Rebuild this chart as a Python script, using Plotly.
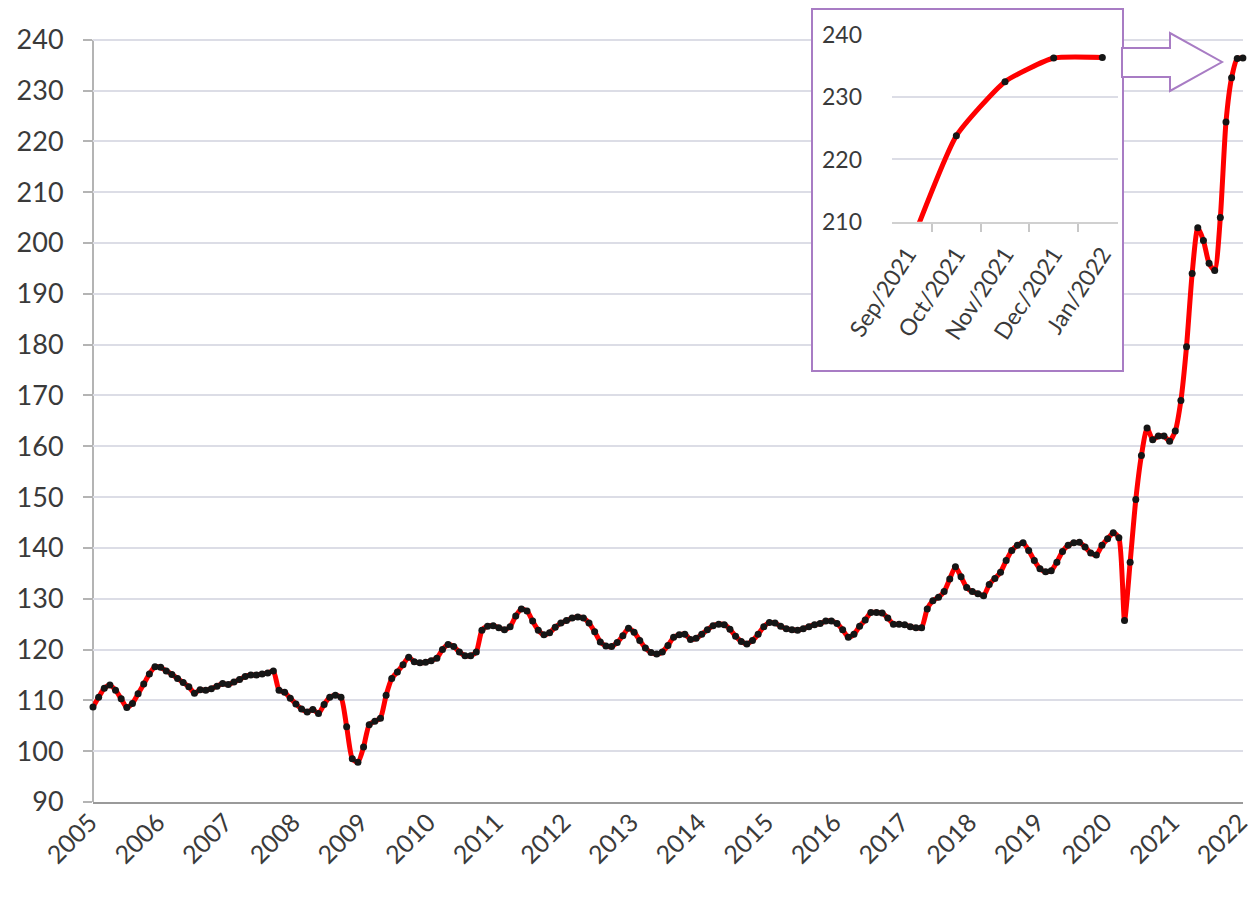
import plotly.graph_objects as go

# ---------------- data (monthly index, Jan 2005 .. Jan 2022) ----------------
year_labels = [str(y) for y in range(2005, 2023)]

v2005 = [108.7, 110.6, 112.4, 113.0, 112.0, 110.3, 108.6, 109.4, 111.3, 113.2, 115.2, 116.6]
v2006 = [116.5, 115.8, 115.1, 114.3, 113.5, 112.7, 111.4, 112.1, 112.0, 112.3, 112.8, 113.3]
v2007 = [113.1, 113.6, 114.1, 114.7, 115.0, 115.0, 115.2, 115.4, 115.8, 112.0, 111.6, 110.4]
v2008 = [109.3, 108.3, 107.7, 108.2, 107.4, 109.2, 110.6, 111.0, 110.6, 104.8, 98.5, 97.8]
v2009 = [100.8, 105.2, 105.9, 106.5, 111.0, 114.3, 115.6, 117.0, 118.5, 117.6, 117.4, 117.5]
v2010 = [117.8, 118.3, 120.0, 121.0, 120.6, 119.5, 118.8, 118.8, 119.5, 123.8, 124.6, 124.7]
v2011 = [124.3, 123.9, 124.5, 126.6, 128.0, 127.6, 125.6, 123.8, 122.9, 123.3, 124.4, 125.2]
v2012 = [125.7, 126.2, 126.4, 126.2, 125.2, 123.5, 121.5, 120.7, 120.6, 121.4, 122.7, 124.2]
v2013 = [123.4, 121.8, 120.3, 119.4, 119.1, 119.5, 120.8, 122.4, 122.9, 123.0, 122.0, 122.2]
v2014 = [123.0, 123.9, 124.7, 125.0, 124.9, 124.0, 122.6, 121.6, 121.1, 121.8, 123.0, 124.5]
v2015 = [125.3, 125.2, 124.6, 124.1, 123.9, 123.8, 124.1, 124.5, 124.9, 125.1, 125.6, 125.6]
v2016 = [125.1, 123.9, 122.4, 123.0, 124.6, 125.8, 127.3, 127.3, 127.2, 126.2, 125.0, 125.0]
v2017 = [124.9, 124.5, 124.3, 124.3, 128.0, 129.6, 130.3, 131.4, 133.9, 136.3, 134.3, 132.2]
v2018 = [131.4, 131.0, 130.6, 132.8, 134.0, 135.2, 137.5, 139.5, 140.5, 141.0, 139.5, 137.5]
v2019 = [135.9, 135.3, 135.5, 137.2, 139.3, 140.5, 141.0, 141.1, 140.2, 139.0, 138.6, 140.5]
v2020 = [141.8, 143.0, 142.0, 125.7, 137.2, 149.5, 158.2, 163.6, 161.3, 162.0, 162.0, 161.0]
v2021 = [163.0, 169.0, 179.6, 194.0, 203.0, 200.5, 196.0, 194.6, 205.0, 223.8, 232.5, 236.3]
v2022 = [236.4]

values = (v2005 + v2006 + v2007 + v2008 + v2009 + v2010 + v2011 + v2012 + v2013
          + v2014 + v2015 + v2016 + v2017 + v2018 + v2019 + v2020 + v2021 + v2022)
month_index = list(range(len(values)))
year_tick_index = [12 * i for i in range(len(year_labels))]

inset_months = ['Sep/2021', 'Oct/2021', 'Nov/2021', 'Dec/2021', 'Jan/2022']
inset_values = values[-5:]

main_ticks = list(range(90, 241, 10))
inset_ticks = [210, 220, 230, 240]

# ---------------- layout helpers (pixel -> paper) ----------------
W, H = 1253, 897
X0, X1, Y0, Y1 = 93, 1243, 8, 802          # main plot area in pixels
def px(x):
    return (x - X0) / (X1 - X0)
def py(y):
    return (Y1 - y) / (Y1 - Y0)

PX_PER_UNIT = (802 - 39.7) / 150.0
y_top = 90 + (Y1 - Y0) / PX_PER_UNIT

FONT = 'Lato'
TXT = '#3a3a3a'
GRID = '#dcdde6'
PURPLE = '#a87cc4'

fig = go.Figure()

fig.add_trace(go.Scatter(
    x=month_index, y=values, mode='lines+markers',
    line=dict(color='#ff0000', width=5, shape='spline', smoothing=0.6),
    marker=dict(color='#151515', size=7),
    cliponaxis=False, showlegend=False, hoverinfo='skip'))

# inset frame subplot (white box with purple border)
fig.add_trace(go.Scatter(x=[], y=[], xaxis='x2', yaxis='y2', showlegend=False))

# inset chart
fig.add_trace(go.Scatter(
    x=inset_months, y=inset_values, xaxis='x3', yaxis='y3', mode='lines+markers',
    line=dict(color='#ff0000', width=5, shape='spline', smoothing=0.5),
    marker=dict(color='#151515', size=7),
    showlegend=False, hoverinfo='skip'))

fig.update_layout(
    template='none',
    width=W, height=H,
    margin=dict(l=X0, r=W - X1, t=Y0, b=H - Y1, autoexpand=False),
    paper_bgcolor='white', plot_bgcolor='white',
    font=dict(family=FONT, color=TXT),
    xaxis=dict(range=[0, len(values) - 1 + 0.02], tickmode='array',
               tickvals=year_tick_index, ticktext=year_labels,
               tickangle=-45, tickfont=dict(size=25, color=TXT, family=FONT),
               ticklabeloverflow='allow', ticklabelshift=-3,
               showgrid=False, zeroline=False, showline=True, automargin=False,
               linecolor='#9a9a9a', linewidth=2, ticks='', ticklabelstandoff=-6),
    yaxis=dict(range=[90, y_top], tickmode='array', tickvals=main_ticks,
               tickfont=dict(size=27, color=TXT, family=FONT), automargin=False,
               showgrid=True, gridcolor=GRID, gridwidth=2, zeroline=False,
               showline=False, ticks='outside', ticklen=9, tickwidth=2,
               tickcolor='#b4b4b4', ticklabelstandoff=14),
    xaxis2=dict(domain=[px(813), px(1122)], anchor='y2', range=[0, 1], automargin=False,
                showgrid=False, zeroline=False, showticklabels=False,
                showline=True, mirror=True, linecolor=PURPLE, linewidth=2, ticks=''),
    yaxis2=dict(domain=[py(370), py(10)], anchor='x2', range=[0, 1], automargin=False,
                showgrid=False, zeroline=False, showticklabels=False,
                showline=True, mirror=True, linecolor=PURPLE, linewidth=2, ticks=''),
    xaxis3=dict(domain=[px(892), px(1118)], anchor='y3', type='category',
                categoryorder='array', categoryarray=inset_months, automargin=False,
                tickson='boundaries', ticks='outside', ticklen=8, tickwidth=2,
                tickcolor='#c8c8c8', showline=True, linecolor='#d0d0d0', linewidth=2,
                showgrid=False, zeroline=False, tickangle=-57, ticklabelstandoff=8,
                tickfont=dict(size=23, color=TXT, family=FONT)),
    yaxis3=dict(domain=[py(221.7), py(35)], anchor='x3', range=[210, 240], automargin=False,
                tickmode='array', tickvals=inset_ticks, showgrid=True,
                gridcolor=GRID, gridwidth=2, zeroline=False, showline=False,
                ticks='', ticklabelstandoff=29,
                tickfont=dict(size=23, color=TXT, family=FONT)),
)

# left axis line of the main chart (from 90 to 240)
fig.add_shape(type='line', xref='paper', yref='y', x0=0, x1=0,
              y0=main_ticks[0], y1=main_ticks[-1],
              line=dict(color='#b4b4b4', width=2), layer='below')

# block arrow pointing from the inset to the last points
arrow_px = [(1122, 48), (1170, 48), (1170, 33), (1222, 62), (1170, 91), (1170, 77), (1122, 77)]
path = 'M ' + ' L '.join(f'{px(x):.5f},{py(y):.5f}' for x, y in arrow_px) + ' Z'
fig.add_shape(type='path', xref='paper', yref='paper', path=path,
              fillcolor='white', line=dict(color=PURPLE, width=2), layer='above')

fig.write_html('out.html', config={'displayModeBar': False},
               post_script="document.body.style.margin='0';document.body.style.overflow='hidden';")
